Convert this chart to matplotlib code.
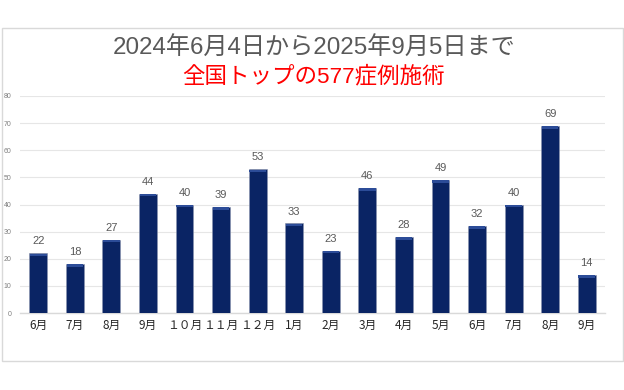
import matplotlib.pyplot as plt
from matplotlib.patches import Rectangle

plt.rcParams['font.family'] = ['Noto Sans CJK JP', 'DejaVu Sans']
mixed_font = ['Liberation Sans', 'Noto Sans CJK JP']

# --------------------------------------------------
# Data
# --------------------------------------------------
months = ["6月", "7月", "8月", "9月", "１０月", "１１月", "１２月", "1月",
          "2月", "3月", "4月", "5月", "6月", "7月", "8月", "9月"]
cases = [22, 18, 27, 44, 40, 39, 53, 33, 23, 46, 28, 49, 32, 40, 69, 14]
y_ticks = [0, 10, 20, 30, 40, 50, 60, 70, 80]

title_line1 = "2024年6月4日から2025年9月5日まで"
title_line2 = "全国トップの577症例施術"

# --------------------------------------------------
# Figure
# --------------------------------------------------
fig = plt.figure(figsize=(6.24, 3.9), dpi=100)
fig.patch.set_facecolor("white")

# outer frame
fig.patches.append(Rectangle(
    (1.5 / 624, 1 - 361 / 390), 621 / 624, 333 / 390,
    transform=fig.transFigure, fill=False,
    edgecolor="#D9D9D9", linewidth=1.0
))

ax = fig.add_axes([20 / 624, 1 - 313 / 390, 585 / 624, 217 / 390])

x = list(range(len(months)))
ax.bar(x, cases, width=0.49, color="#0A2464",
       edgecolor="#8A93AE", linewidth=0.4, zorder=3)
# lighter cap at top of each bar
ax.bar(x, [0.9] * len(cases), width=0.45,
       bottom=[v - 1.0 for v in cases],
       color="#2C4C98", linewidth=0, zorder=4)

for xi, v in zip(x, cases):
    ax.annotate(str(v), (xi, v), xytext=(0, 5), textcoords="offset points",
                ha="center", va="bottom", fontsize=8, color="#595959",
                family=mixed_font)

ax.set_xlim(-0.5, len(months) - 0.5)
ax.set_ylim(0, 80)
ax.set_yticks(y_ticks)
ax.set_yticklabels([str(t) for t in y_ticks], fontsize=5, color="#7F7F7F",
                   family=mixed_font)
ax.set_xticks(x)
ax.set_xticklabels(months, fontsize=8.5, color="#262626")
ax.tick_params(axis="both", length=0)
ax.tick_params(axis="x", pad=4)
ax.tick_params(axis="y", pad=6)

ax.grid(axis="y", color="#E6E6E6", linewidth=0.8, zorder=0)
for side in ["top", "right", "left"]:
    ax.spines[side].set_visible(False)
ax.spines["bottom"].set_color("#D9D9D9")
ax.spines["bottom"].set_linewidth(1.0)

fig.text(0.503, 1 - 47 / 390, title_line1, ha="center", va="center",
         fontsize=17.4, color="#595959", family=mixed_font)
fig.text(0.503, 1 - 76 / 390, title_line2, ha="center", va="center",
         fontsize=16.2, color="#FF0000", family=mixed_font)

fig.savefig("out.png", dpi=100)
